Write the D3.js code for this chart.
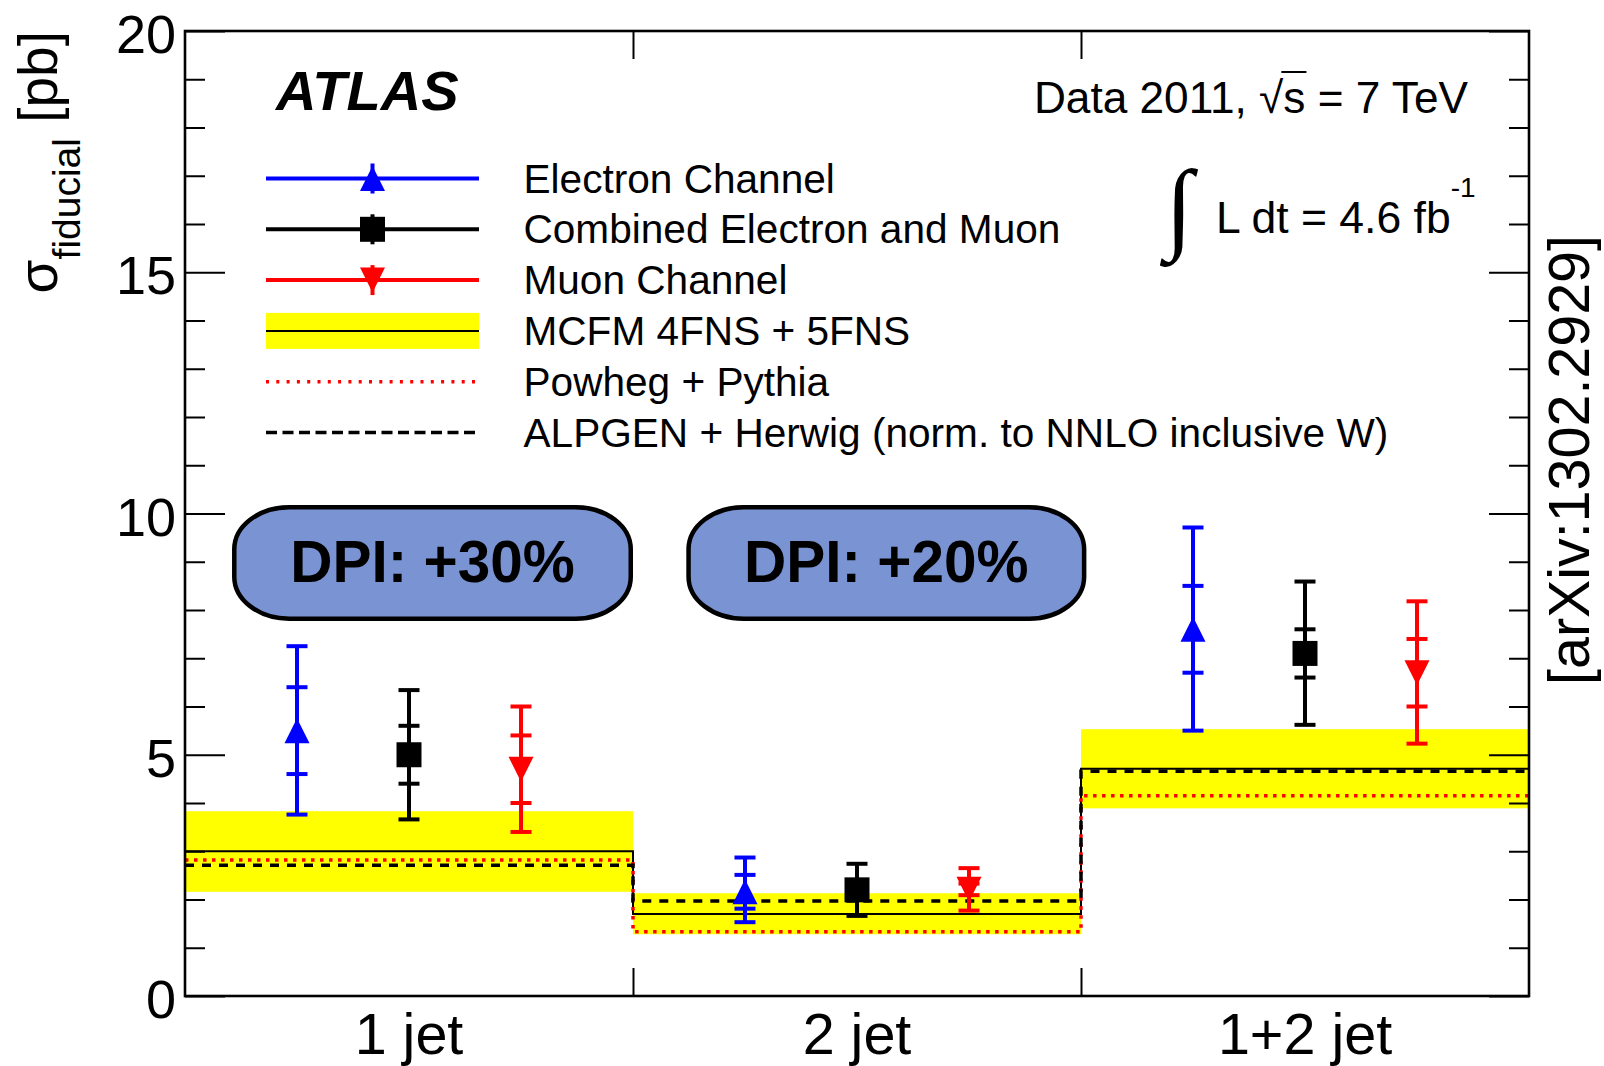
<!DOCTYPE html>
<html><head><meta charset="utf-8">
<script src="https://cdn.jsdelivr.net/npm/d3@7"></script>
<style>
body{margin:0;background:#fff;}
svg{display:block;}
text{font-family:"Liberation Sans",Arial,Helvetica,sans-serif;fill:#000;}
</style>
</head><body>
<svg id="c" width="1604" height="1066"></svg>
<script>
// ---------------- data ----------------
const categories = ["1 jet", "2 jet", "1+2 jet"];
const yTicksMajor = [0, 5, 10, 15, 20];
const yTicksMinor = d3.range(0, 21, 1);

const electronVal   = [5.5, 2.16, 7.6];
const electronStat  = [0.9, 0.35, 0.9];
const electronTotUp = [1.75, 0.71, 2.11];
const electronTotDn = [1.74, 0.63, 2.10];

const combinedVal   = [5.0, 2.20, 7.1];
const combinedStat  = [0.6, 0.2, 0.5];
const combinedTotUp = [1.34, 0.54, 1.49];
const combinedTotDn = [1.34, 0.54, 1.48];

const muonVal   = [4.7, 2.21, 6.7];
const muonStat  = [0.7, 0.12, 0.7];
const muonTotUp = [1.30, 0.44, 1.48];
const muonTotDn = [1.30, 0.44, 1.47];

const mcfmVal  = [3.00, 1.70, 4.71];
const mcfmLow  = [2.16, 1.28, 3.89];
const mcfmHigh = [3.83, 2.13, 5.53];
const powhegVal = [2.82, 1.33, 4.15];
const alpgenVal = [2.71, 1.97, 4.66];

const dpiLabels = ["DPI: +30%", "DPI: +20%"];
const legendLabels = ["Electron Channel", "Combined Electron and Muon", "Muon Channel",
  "MCFM 4FNS + 5FNS", "Powheg + Pythia", "ALPGEN + Herwig (norm. to NNLO inclusive W)"];

// ---------------- layout ----------------
const L = 185, R = 1529, T = 31, B = 996;
const svg = d3.select("#c");
const xb = d3.scaleBand().domain(categories).range([L, R]).padding(0);
const xl = d3.scaleLinear().domain([0, 3]).range([L, R]);
const y = d3.scaleLinear().domain([0, 20]).range([B, T]);

const series = [
  {name: "e", val: electronVal, stat: electronStat, up: electronTotUp, dn: electronTotDn, color: "#0000ff", off: 0.25, marker: "up"},
  {name: "c", val: combinedVal, stat: combinedStat, up: combinedTotUp, dn: combinedTotDn, color: "#000000", off: 0.5, marker: "sq"},
  {name: "m", val: muonVal, stat: muonStat, up: muonTotUp, dn: muonTotDn, color: "#ff0000", off: 0.75, marker: "down"}
];

function markerPath(type, cx, cy, s) {
  const h = s / 2;
  const p = d3.path();
  if (type === "up") { p.moveTo(cx - h, cy + h); p.lineTo(cx + h, cy + h); p.lineTo(cx, cy - h); p.closePath(); }
  else if (type === "down") { p.moveTo(cx - h, cy - h); p.lineTo(cx + h, cy - h); p.lineTo(cx, cy + h); p.closePath(); }
  else { p.rect(cx - h, cy - h, s, s); }
  return p.toString();
}

// ---------------- MCFM band ----------------
const gPlot = svg.append("g");
gPlot.selectAll("rect.band").data(categories).join("rect")
  .attr("x", d => xb(d)).attr("width", xb.bandwidth())
  .attr("y", (d, i) => y(mcfmHigh[i])).attr("height", (d, i) => y(mcfmLow[i]) - y(mcfmHigh[i]))
  .attr("fill", "#ffff00");

function stepLine(vals) {
  const pts = vals.map((v, i) => [i, v]);
  pts.push([vals.length, vals[vals.length - 1]]);
  return d3.line().x(d => xl(d[0])).y(d => y(d[1])).curve(d3.curveStepAfter)(pts);
}
gPlot.append("path").attr("d", stepLine(mcfmVal)).attr("fill", "none").attr("stroke", "#000").attr("stroke-width", 2);
gPlot.append("path").attr("d", stepLine(powhegVal)).attr("fill", "none").attr("stroke", "#ff0000").attr("stroke-width", 3.5).attr("stroke-dasharray", "3.5,5.5");
gPlot.append("path").attr("d", stepLine(alpgenVal)).attr("fill", "none").attr("stroke", "#000").attr("stroke-width", 3.5).attr("stroke-dasharray", "9,8");

// ---------------- data points ----------------
const capW = 21, mSize = 25;
series.forEach(s => {
  const g = svg.append("g").attr("stroke", s.color).attr("fill", s.color);
  categories.forEach((c, i) => {
    const cx = xb(c) + xb.bandwidth() * s.off;
    const v = s.val[i];
    g.append("line").attr("x1", cx).attr("x2", cx).attr("y1", y(v + s.up[i])).attr("y2", y(v - s.dn[i])).attr("stroke-width", 4);
    [v + s.up[i], v - s.dn[i], v + s.stat[i], v - s.stat[i]].forEach(e => {
      g.append("line").attr("x1", cx - capW / 2).attr("x2", cx + capW / 2).attr("y1", y(e)).attr("y2", y(e)).attr("stroke-width", 4);
    });
    g.append("path").attr("d", markerPath(s.marker, cx, y(v), mSize)).attr("stroke", "none");
  });
});

// ---------------- DPI boxes ----------------
const dpiBoxes = [{x0: 0.11, x1: 0.995}, {x0: 1.124, x1: 2.007}];
const dpiY0 = 7.82, dpiY1 = 10.13;
dpiBoxes.forEach((b, i) => {
  svg.append("rect").attr("x", xl(b.x0)).attr("y", y(dpiY1)).attr("width", xl(b.x1) - xl(b.x0)).attr("height", y(dpiY0) - y(dpiY1))
    .attr("rx", 55).attr("ry", 42).attr("fill", "#7a93d3").attr("stroke", "#000").attr("stroke-width", 4.5);
  svg.append("text").attr("x", (xl(b.x0) + xl(b.x1)) / 2).attr("y", 582).attr("text-anchor", "middle")
    .style("font-size", "58.5px").style("font-weight", "bold").text(dpiLabels[i]);
});

// ---------------- axes ----------------
const ax = svg.append("g");
ax.append("g").attr("transform", `translate(${L},0)`).call(d3.axisLeft(y).tickValues(yTicksMinor.filter(v => v % 5)).tickSizeInner(-20).tickSizeOuter(0).tickFormat(""));
ax.append("g").attr("transform", `translate(${L},0)`).call(d3.axisLeft(y).tickValues(yTicksMajor).tickSizeInner(-40).tickSizeOuter(0).tickPadding(9))
  .selectAll("text").style("font-size", "54px").attr("dy", "0.40em");
ax.append("g").attr("transform", `translate(${R},0)`).call(d3.axisRight(y).tickValues(yTicksMinor.filter(v => v % 5)).tickSizeInner(-20).tickSizeOuter(0).tickFormat(""));
ax.append("g").attr("transform", `translate(${R},0)`).call(d3.axisRight(y).tickValues(yTicksMajor).tickSizeInner(-40).tickSizeOuter(0).tickFormat(""));
ax.append("g").attr("transform", `translate(0,${B})`).call(d3.axisBottom(xl).tickValues([1, 2]).tickSizeInner(-28).tickSizeOuter(0).tickFormat(""));
ax.append("g").attr("transform", `translate(0,${T})`).call(d3.axisTop(xl).tickValues([1, 2]).tickSizeInner(-28).tickSizeOuter(0).tickFormat(""));
ax.append("g").attr("transform", `translate(0,${B})`).call(d3.axisBottom(xb).tickSize(0).tickPadding(0))
  .selectAll("text").style("font-size", "57.5px").attr("dy", null).attr("y", 58);
ax.selectAll(".domain").remove();
ax.selectAll(".tick line").attr("stroke", "#000").attr("stroke-width", 2);
ax.selectAll(".tick text").attr("fill", "#000").style("font-family", "'Liberation Sans',Arial,sans-serif");
svg.append("rect").attr("x", L).attr("y", T).attr("width", R - L).attr("height", B - T)
  .attr("fill", "none").attr("stroke", "#000").attr("stroke-width", 2.6);

// axis title
const yt = svg.append("text").attr("transform", `translate(57,${T}) rotate(-90)`).attr("text-anchor", "end").style("font-size", "55px");
yt.append("tspan").text("σ");
yt.append("tspan").attr("dy", 23).style("font-size", "39px").text("fiducial");
yt.append("tspan").attr("dy", -23).text(" [pb]");

svg.append("text").attr("transform", "translate(1589,460) rotate(-90)").attr("text-anchor", "middle")
  .style("font-size", "57.4px").text("[arXiv:1302.2929]");

// ---------------- labels ----------------
svg.append("text").attr("x", 276).attr("y", 110).style("font-size", "56px").style("font-weight", "bold").style("font-style", "italic").text("ATLAS");

const dt = svg.append("text").attr("x", 1468).attr("y", 113).attr("text-anchor", "end").style("font-size", "44.2px");
dt.append("tspan").text("Data 2011, ");
dt.append("tspan").text("√");
dt.append("tspan").text("s");
dt.append("tspan").text(" = 7 TeV");
{
  const node = dt.node();
  const s1 = node.getEndPositionOfChar(12);
  const r1 = node.getEndPositionOfChar(11);
  svg.append("line").attr("x1", r1.x - 2).attr("x2", s1.x + 1).attr("y1", 72).attr("y2", 72).attr("stroke", "#000").attr("stroke-width", 2);
}

svg.append("text").attr("x", 1165).attr("y", 240).style("font-size", "101px").style("font-family", "'Liberation Serif','Times New Roman',serif").style("font-style", "italic").text("∫");
const lum = svg.append("text").attr("x", 1216).attr("y", 233).style("font-size", "44.5px");
lum.append("tspan").text("L dt = 4.6 fb");
lum.append("tspan").attr("dy", -36).style("font-size", "28px").text("-1");

// ---------------- legend ----------------
const lx0 = 266, lx1 = 479, lmx = 372.5, ltx = 523.5, ly0 = 178.5, ldy = 50.8;
const lg = svg.append("g");
legendLabels.forEach((lab, i) => {
  const yy = ly0 + i * ldy;
  if (i < 3) {
    const s = series[i];
    lg.append("line").attr("x1", lx0).attr("x2", lx1).attr("y1", yy).attr("y2", yy).attr("stroke", s.color).attr("stroke-width", 4);
    lg.append("line").attr("x1", lmx).attr("x2", lmx).attr("y1", yy - 15).attr("y2", yy + 15).attr("stroke", s.color).attr("stroke-width", 4);
    lg.append("path").attr("d", markerPath(s.marker, lmx, yy, mSize)).attr("fill", s.color);
  } else if (i === 3) {
    lg.append("rect").attr("x", lx0).attr("width", lx1 - lx0).attr("y", yy - 18).attr("height", 36).attr("fill", "#ffff00");
    lg.append("line").attr("x1", lx0).attr("x2", lx1).attr("y1", yy).attr("y2", yy).attr("stroke", "#000").attr("stroke-width", 2);
  } else if (i === 4) {
    lg.append("line").attr("x1", lx0).attr("x2", lx1).attr("y1", yy).attr("y2", yy).attr("stroke", "#ff0000").attr("stroke-width", 3.5).attr("stroke-dasharray", "3,7.3");
  } else {
    lg.append("line").attr("x1", lx0).attr("x2", lx1).attr("y1", yy).attr("y2", yy).attr("stroke", "#000").attr("stroke-width", 3.5).attr("stroke-dasharray", "11,5.5");
  }
  lg.append("text").attr("x", ltx).attr("y", yy + 14).style("font-size", "40.6px").text(lab);
});
</script>
</body></html>
